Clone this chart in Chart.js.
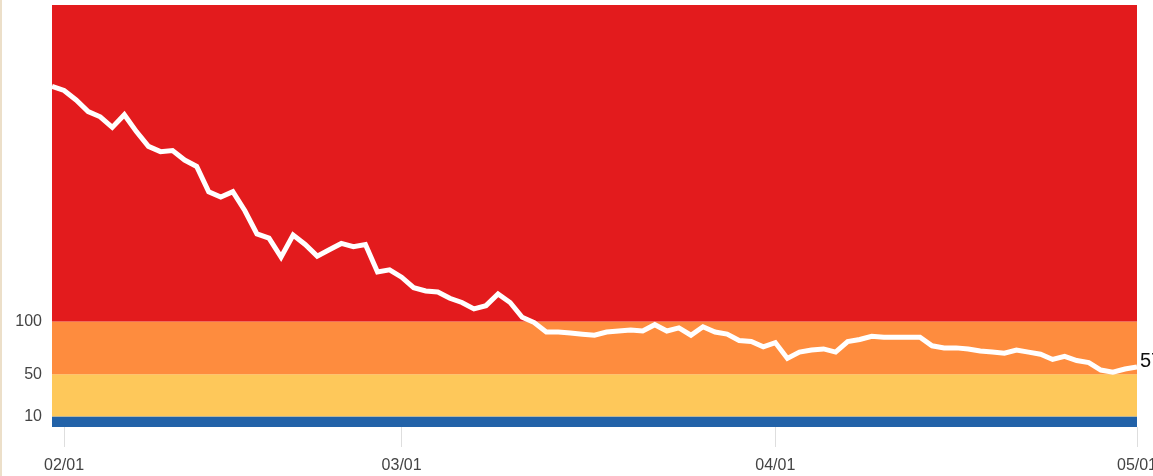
<!DOCTYPE html>
<html>
<head>
<meta charset="utf-8">
<script src="https://cdn.jsdelivr.net/npm/chart.js@4"></script>
<style>
  html, body { margin: 0; padding: 0; background: #fff; }
  #wrap { position: relative; width: 1153px; height: 476px; }
  #edge { position: absolute; left: 0; top: 0; width: 2px; height: 476px; background: #ecdfc9; }
</style>
</head>
<body>
<div id="wrap">
  <canvas id="aqiChart"></canvas>
  <div id="edge"></div>
</div>
<script>
// Daily values, 01/31 through 05/01 (one point per day)
const dayIndex = Array.from({ length: 91 }, (_, i) => i);
const dailyValues = [
  323, 319, 310, 299, 294, 284, 296, 280, 266, 261,
  262, 253, 247, 223, 218, 223, 205, 183, 179, 161,
  182, 173, 162, 168, 174, 171, 173, 147, 149, 142,
  132, 129, 128, 122, 118, 112, 115, 126, 118, 104,
  99, 90, 90, 89, 88, 87, 90, 91, 92, 91,
  97, 91, 94, 87, 95, 90, 88, 82, 81, 76,
  80, 65, 71, 73, 74, 71, 81, 83, 86, 85,
  85, 85, 85, 77, 75, 75, 74, 72, 71, 70,
  73, 71, 69, 64, 67, 63, 61, 54, 52, 55,
  57
];

// x tick positions (day index) and their labels
const tickDays = [1, 29, 60, 90];
const tickLabels = ['02/01', '03/01', '04/01', '05/01'];

// y ticks and the coloured bands behind the line
const yTicks = [10, 50, 100];
const bandEdges = [0, 10, 50, 100, 400];
const bandColors = ['#2262a8', '#fec85a', '#fe8c3e', '#e31b1d'];

// Fill the bands behind the dataset
const bandsPlugin = {
  id: 'bands',
  beforeDatasetsDraw(chart) {
    const { ctx, chartArea, scales } = chart;
    ctx.save();
    for (let i = 0; i < bandColors.length; i++) {
      const yBottom = scales.y.getPixelForValue(bandEdges[i]);
      const yTop = scales.y.getPixelForValue(bandEdges[i + 1]);
      ctx.fillStyle = bandColors[i];
      ctx.fillRect(chartArea.left, yTop, chartArea.right - chartArea.left, yBottom - yTop);
    }
    ctx.restore();
  }
};

// Print the last value next to the end of the line
const lastValuePlugin = {
  id: 'lastValue',
  afterDatasetsDraw(chart) {
    const meta = chart.getDatasetMeta(0);
    const pt = meta.data[meta.data.length - 1];
    const { ctx } = chart;
    ctx.save();
    ctx.font = '20px "Liberation Sans", Arial, sans-serif';
    ctx.fillStyle = '#111';
    ctx.textAlign = 'left';
    ctx.textBaseline = 'middle';
    ctx.fillText(String(dailyValues[dailyValues.length - 1]), pt.x + 3, pt.y - 5);
    ctx.restore();
  }
};

const ctx = document.getElementById('aqiChart').getContext('2d');

new Chart(ctx, {
  type: 'line',
  data: {
    labels: dayIndex,
    datasets: [{
      data: dailyValues.map((v, i) => ({ x: dayIndex[i], y: v })),
      borderColor: '#ffffff',
      borderWidth: 5,
      pointRadius: 0,
      tension: 0,
      fill: false
    }]
  },
  options: {
    responsive: true,
    maintainAspectRatio: false,
    animation: false,
    layout: { padding: { left: 0, right: 16, top: 5, bottom: 0 } },
    plugins: {
      legend: { display: false },
      tooltip: { enabled: false }
    },
    scales: {
      x: {
        type: 'linear',
        min: 0,
        max: 90,
        afterBuildTicks(scale) {
          scale.ticks = tickDays.map(v => ({ value: v }));
        },
        afterFit(scale) {
          scale.height = 49;
          scale.paddingLeft = 0;
          scale.paddingRight = 0;
        },
        grid: {
          display: true,
          drawOnChartArea: false,
          drawTicks: true,
          tickLength: 20,
          color: '#dedede'
        },
        border: { display: false },
        ticks: {
          autoSkip: false,
          maxRotation: 0,
          padding: 9,
          color: '#444',
          font: { size: 16, family: '"Liberation Sans", Arial, sans-serif' },
          callback: function(value) {
            const i = tickDays.indexOf(value);
            return i >= 0 ? tickLabels[i] : '';
          }
        }
      },
      y: {
        min: 0,
        max: 400,
        afterBuildTicks(scale) {
          scale.ticks = yTicks.map(v => ({ value: v }));
        },
        afterFit(scale) {
          scale.width = 52;
          scale.paddingTop = 0;
          scale.paddingBottom = 0;
        },
        grid: { display: false, drawTicks: false },
        border: { display: false },
        ticks: {
          padding: 10,
          color: '#444',
          font: { size: 16, family: '"Liberation Sans", Arial, sans-serif' }
        }
      }
    }
  },
  plugins: [bandsPlugin, lastValuePlugin]
});
</script>
</body>
</html>
